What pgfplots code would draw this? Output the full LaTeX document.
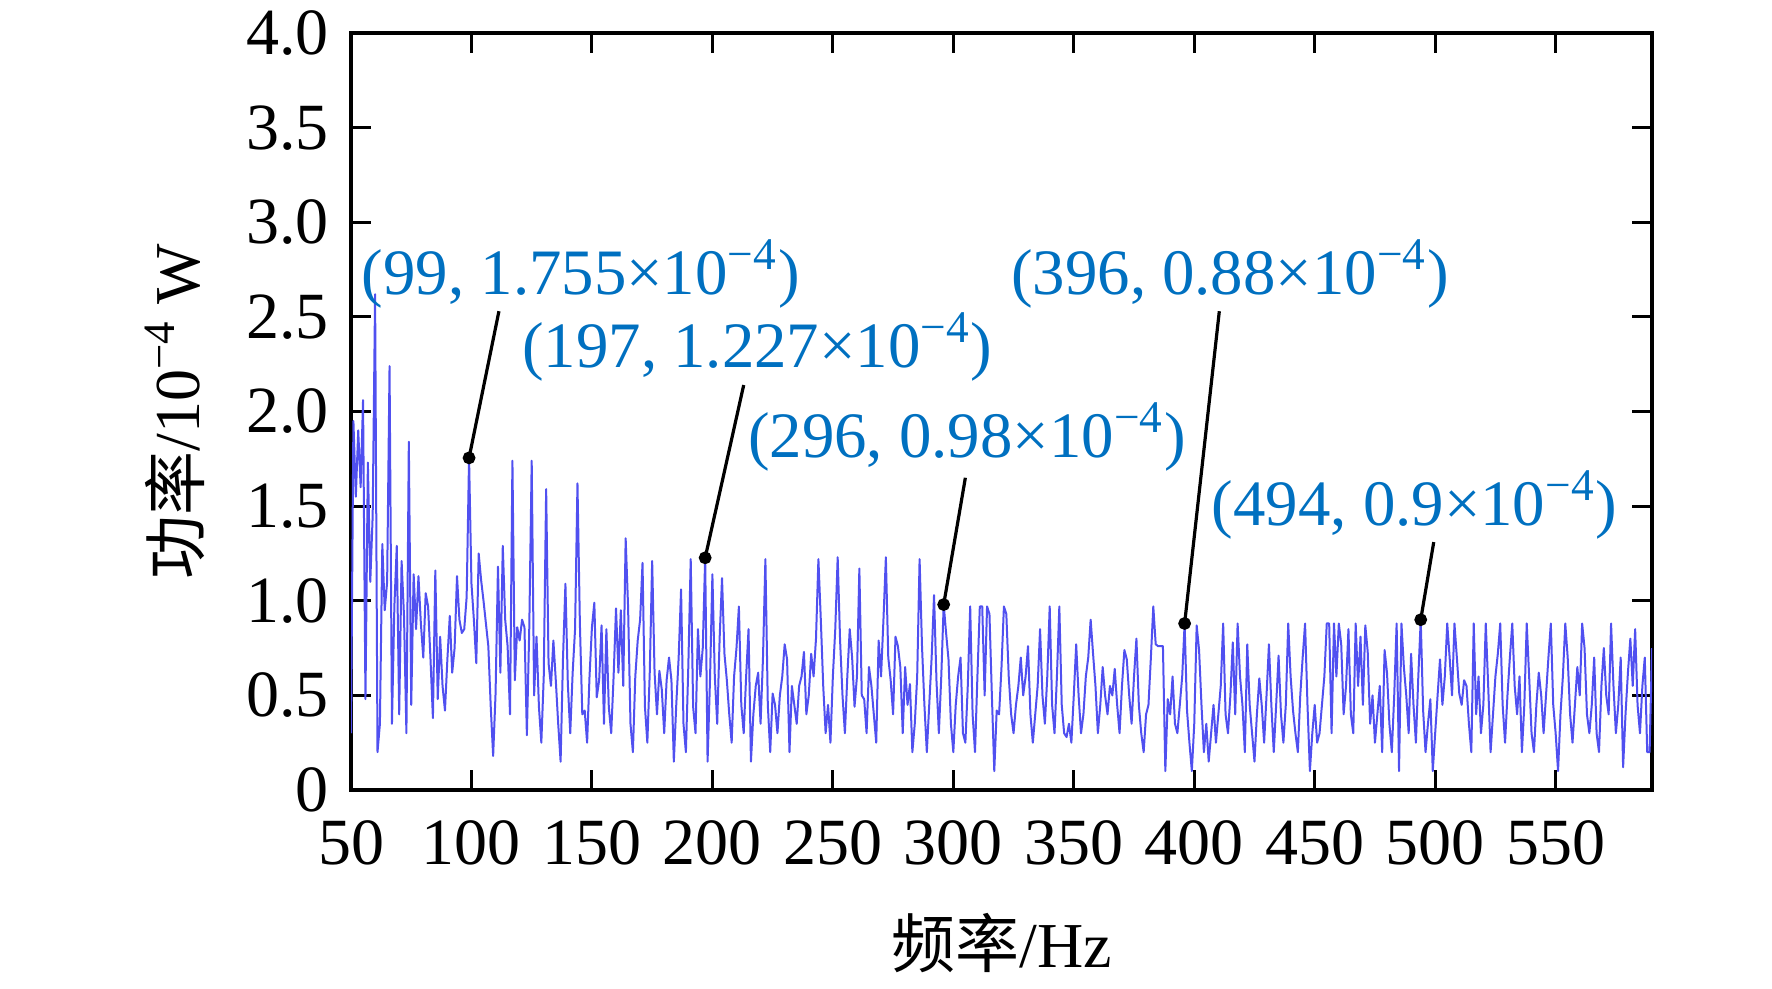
\documentclass[border=0pt]{standalone}
\usepackage{pgfplots}
\pgfplotsset{compat=1.18}
\usepackage{fontspec}
\setmainfont{Liberation Serif}
\newfontfamily\cjk{Noto Sans CJK SC}
\definecolor{annblue}{RGB}{0,112,192}
\definecolor{sigblue}{RGB}{80,80,240}
\begin{document}
\begin{tikzpicture}
\path[use as bounding box] (-87.75pt,-49.5pt) rectangle (355.25pt,197.5pt);
\begin{axis}[
  at={(0,0)}, anchor=south west,
  scale only axis, width=325.25pt, height=189.25pt,
  xmin=50, xmax=590, ymin=0, ymax=4,
  xtick={50,100,150,200,250,300,350,400,450,500,550},
  xticklabels={50,100,150,200,250,300,350,400,450,500,550},
  ytick={0,0.5,1,1.5,2,2.5,3,3.5,4},
  yticklabels={0,0.5,1.0,1.5,2.0,2.5,3.0,3.5,4.0},
  tick align=inside, major tick length=5pt,
  tick style={black, line width=0.75pt},
  axis line style={black, line width=1pt},
  ticklabel style={font=\fontsize{16.5}{16.5}\selectfont},
  x tick label style={yshift=-4pt},
  y tick label style={xshift=-2pt},
  xlabel={{\cjk 频率}/Hz},
  ylabel={{\cjk 功率}/10\textsuperscript{−4} W},
  every axis x label/.style={at={(axis description cs:0.5,-0.2021)}, anchor=center, font=\fontsize{16}{16}\selectfont},
  every axis y label/.style={at={(axis description cs:-0.1353,0.5)}, rotate=90, anchor=center, font=\fontsize{16}{16}\selectfont},
  clip=true,
]
\addplot[sigblue, line width=0.5pt, line join=round, mark=none] coordinates {
(50,0.30)(51,1.95)(52,1.55)(53,1.90)(54,1.60)(55,2.06)(56,0.48)(57,1.73)(58,1.10)(59,1.45)
(60,2.62)(61,0.20)(62,0.35)(63,1.30)(64,0.95)(65,1.10)(66,2.24)(67,0.35)(68,0.97)(69,1.29)
(70,0.40)(71,1.21)(72,0.92)(73,0.30)(74,1.84)(75,0.45)(76,1.14)(77,0.85)(78,1.13)(79,0.88)
(80,0.70)(81,1.04)(82,0.97)(83,0.69)(84,0.38)(85,1.16)(86,0.48)(87,0.81)(88,0.55)(89,0.42)
(90,0.69)(91,0.92)(92,0.62)(93,0.75)(94,1.13)(95,0.90)(96,0.83)(97,0.85)(98,1.02)(99,1.755)
(100,1.09)(101,0.90)(102,0.67)(103,1.25)(104,1.11)(105,1.00)(106,0.88)(107,0.76)(108,0.44)(109,0.18)
(110,0.51)(111,1.18)(112,0.62)(113,1.29)(114,0.90)(115,0.76)(116,0.40)(117,1.74)(118,0.58)(119,0.86)
(120,0.79)(121,0.90)(122,0.86)(123,0.29)(124,0.86)(125,1.74)(126,0.50)(127,0.81)(128,0.44)(129,0.25)
(130,0.60)(131,1.59)(132,0.67)(133,0.55)(134,0.79)(135,0.58)(136,0.35)(137,0.15)(138,0.70)(139,1.09)
(140,0.56)(141,0.30)(142,0.62)(143,0.85)(144,1.62)(145,0.88)(146,0.40)(147,0.42)(148,0.25)(149,0.60)
(150,0.86)(151,0.99)(152,0.49)(153,0.58)(154,0.87)(155,0.35)(156,0.85)(157,0.44)(158,0.30)(159,0.60)
(160,0.96)(161,0.62)(162,0.95)(163,0.55)(164,1.33)(165,0.97)(166,0.35)(167,0.20)(168,0.60)(169,0.79)
(170,0.90)(171,1.20)(172,0.44)(173,0.25)(174,0.62)(175,1.21)(176,0.62)(177,0.40)(178,0.63)(179,0.53)
(180,0.30)(181,0.58)(182,0.70)(183,0.58)(184,0.15)(185,0.45)(186,0.70)(187,1.06)(188,0.35)(189,0.20)
(190,0.65)(191,1.22)(192,0.44)(193,0.30)(194,0.85)(195,0.60)(196,0.75)(197,1.227)(198,0.15)(199,0.58)
(200,1.14)(201,0.60)(202,0.35)(203,0.80)(204,1.12)(205,0.72)(206,0.58)(207,0.40)(208,0.25)(209,0.60)
(210,0.75)(211,0.97)(212,0.45)(213,0.30)(214,0.60)(215,0.85)(216,0.15)(217,0.40)(218,0.55)(219,0.62)
(220,0.35)(221,0.70)(222,1.22)(223,0.45)(224,0.20)(225,0.51)(226,0.45)(227,0.30)(228,0.50)(229,0.60)
(230,0.77)(231,0.69)(232,0.20)(233,0.55)(234,0.45)(235,0.35)(236,0.55)(237,0.60)(238,0.73)(239,0.40)
(240,0.50)(241,0.72)(242,0.60)(243,0.80)(244,1.22)(245,0.90)(246,0.55)(247,0.30)(248,0.45)(249,0.25)
(250,0.60)(251,0.85)(252,1.23)(253,0.79)(254,0.50)(255,0.30)(256,0.60)(257,0.85)(258,0.70)(259,0.44)
(260,0.60)(261,1.17)(262,0.50)(263,0.48)(264,0.30)(265,0.65)(266,0.55)(267,0.40)(268,0.25)(269,0.79)
(270,0.60)(271,0.90)(272,1.23)(273,0.70)(274,0.58)(275,0.40)(276,0.81)(277,0.76)(278,0.65)(279,0.30)
(280,0.65)(281,0.45)(282,0.56)(283,0.20)(284,0.35)(285,0.60)(286,1.22)(287,0.76)(288,0.45)(289,0.20)
(290,0.45)(291,0.70)(292,1.03)(293,0.58)(294,0.30)(295,0.60)(296,0.98)(297,0.83)(298,0.69)(299,0.35)
(300,0.20)(301,0.45)(302,0.60)(303,0.70)(304,0.30)(305,0.25)(306,0.55)(307,0.97)(308,0.40)(309,0.20)
(310,0.60)(311,0.97)(312,0.97)(313,0.50)(314,0.97)(315,0.93)(316,0.50)(317,0.10)(318,0.42)(319,0.40)
(320,0.65)(321,0.97)(322,0.93)(323,0.60)(324,0.40)(325,0.30)(326,0.45)(327,0.55)(328,0.70)(329,0.50)
(330,0.60)(331,0.76)(332,0.40)(333,0.25)(334,0.40)(335,0.55)(336,0.85)(337,0.50)(338,0.35)(339,0.60)
(340,0.97)(341,0.45)(342,0.30)(343,0.60)(344,0.97)(345,0.45)(346,0.30)(347,0.28)(348,0.35)(349,0.25)
(350,0.50)(351,0.77)(352,0.50)(353,0.30)(354,0.40)(355,0.60)(356,0.70)(357,0.90)(358,0.72)(359,0.55)
(360,0.30)(361,0.45)(362,0.65)(363,0.50)(364,0.40)(365,0.55)(366,0.50)(367,0.64)(368,0.45)(369,0.30)
(370,0.55)(371,0.74)(372,0.69)(373,0.50)(374,0.35)(375,0.60)(376,0.80)(377,0.45)(378,0.30)(379,0.20)
(380,0.40)(381,0.45)(382,0.70)(383,0.97)(384,0.77)(385,0.76)(386,0.76)(387,0.76)(388,0.10)(389,0.48)
(390,0.40)(391,0.60)(392,0.35)(393,0.30)(394,0.45)(395,0.60)(396,0.88)(397,0.42)(398,0.25)(399,0.10)
(400,0.35)(401,0.87)(402,0.74)(403,0.45)(404,0.20)(405,0.35)(406,0.15)(407,0.30)(408,0.45)(409,0.25)
(410,0.40)(411,0.55)(412,0.88)(413,0.40)(414,0.30)(415,0.50)(416,0.78)(417,0.40)(418,0.88)(419,0.60)
(420,0.45)(421,0.20)(422,0.77)(423,0.45)(424,0.30)(425,0.15)(426,0.40)(427,0.59)(428,0.45)(429,0.25)
(430,0.50)(431,0.77)(432,0.45)(433,0.20)(434,0.45)(435,0.71)(436,0.40)(437,0.25)(438,0.45)(439,0.88)
(440,0.60)(441,0.42)(442,0.30)(443,0.20)(444,0.50)(445,0.70)(446,0.88)(447,0.45)(448,0.10)(449,0.30)
(450,0.45)(451,0.25)(452,0.30)(453,0.45)(454,0.60)(455,0.88)(456,0.88)(457,0.30)(458,0.88)(459,0.60)
(460,0.88)(461,0.77)(462,0.40)(463,0.55)(464,0.85)(465,0.40)(466,0.30)(467,0.88)(468,0.55)(469,0.81)
(470,0.45)(471,0.87)(472,0.73)(473,0.35)(474,0.50)(475,0.25)(476,0.40)(477,0.55)(478,0.20)(479,0.74)
(480,0.62)(481,0.35)(482,0.20)(483,0.50)(484,0.88)(485,0.10)(486,0.88)(487,0.65)(488,0.50)(489,0.30)
(490,0.72)(491,0.45)(492,0.25)(493,0.60)(494,0.90)(495,0.42)(496,0.20)(497,0.35)(498,0.48)(499,0.10)
(500,0.30)(501,0.50)(502,0.69)(503,0.45)(504,0.60)(505,0.88)(506,0.70)(507,0.50)(508,0.88)(509,0.70)
(510,0.51)(511,0.45)(512,0.58)(513,0.55)(514,0.35)(515,0.20)(516,0.88)(517,0.40)(518,0.60)(519,0.30)
(520,0.45)(521,0.88)(522,0.55)(523,0.20)(524,0.40)(525,0.60)(526,0.72)(527,0.88)(528,0.45)(529,0.25)
(530,0.50)(531,0.70)(532,0.88)(533,0.55)(534,0.40)(535,0.60)(536,0.20)(537,0.45)(538,0.88)(539,0.60)
(540,0.30)(541,0.20)(542,0.45)(543,0.62)(544,0.50)(545,0.30)(546,0.50)(547,0.70)(548,0.88)(549,0.45)
(550,0.30)(551,0.10)(552,0.40)(553,0.60)(554,0.88)(555,0.70)(556,0.40)(557,0.25)(558,0.45)(559,0.65)
(560,0.50)(561,0.88)(562,0.75)(563,0.40)(564,0.30)(565,0.45)(566,0.70)(567,0.30)(568,0.20)(569,0.55)
(570,0.75)(571,0.50)(572,0.40)(573,0.88)(574,0.55)(575,0.30)(576,0.45)(577,0.70)(578,0.12)(579,0.40)
(580,0.62)(581,0.80)(582,0.55)(583,0.85)(584,0.45)(585,0.30)(586,0.55)(587,0.70)(588,0.20)(589,0.20)
(590,0.75)
};
% leader lines
\draw[black, line width=0.8pt] (axis cs:99,1.755) -- (axis cs:111.4,2.53);
\draw[black, line width=0.8pt] (axis cs:197,1.227) -- (axis cs:213,2.14);
\draw[black, line width=0.8pt] (axis cs:296,0.98) -- (axis cs:305,1.65);
\draw[black, line width=0.8pt] (axis cs:396,0.88) -- (axis cs:410.4,2.53);
\draw[black, line width=0.8pt] (axis cs:494,0.90) -- (axis cs:499.4,1.31);
\addplot[only marks, mark=*, mark size=1.4pt, black] coordinates {
(99,1.755)(197,1.227)(296,0.98)(396,0.88)(494,0.90)};
% annotation texts
\begin{scope}[every node/.style={anchor=base west, inner sep=0pt, text=annblue, font=\fontsize{16.2}{16.2}\selectfont}]
\node at (axis cs:54.2,2.62) {(99, 1.755×10\textsuperscript{−4})};
\node at (axis cs:120.8,2.233) {(197, 1.227×10\textsuperscript{−4})};
\node at (axis cs:214.5,1.755) {(296, 0.98×10\textsuperscript{−4})};
\node at (axis cs:323.7,2.62) {(396, 0.88×10\textsuperscript{−4})};
\node at (axis cs:407,1.397) {(494, 0.9×10\textsuperscript{−4})};
\end{scope}
\end{axis}
\end{tikzpicture}
\end{document}
